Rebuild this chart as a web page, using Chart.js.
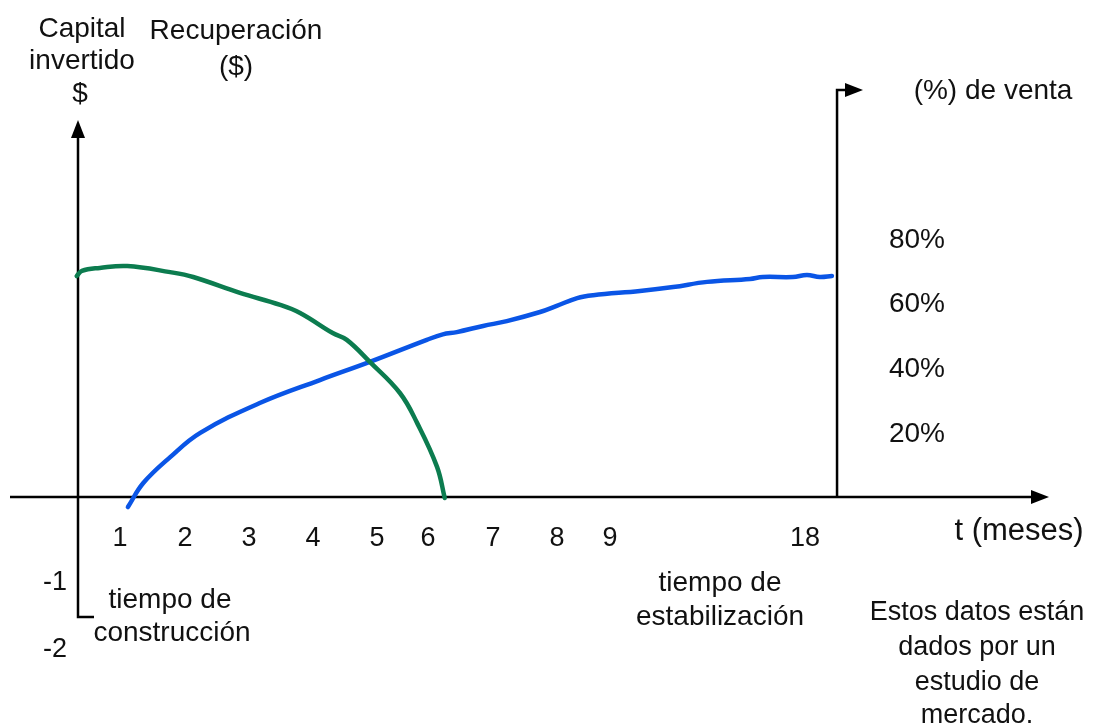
<!DOCTYPE html>
<html>
<head>
<meta charset="utf-8">
<script src="https://cdn.jsdelivr.net/npm/chart.js@4/dist/chart.umd.min.js"></script>
<style>
  html, body { margin: 0; padding: 0; background: #fff; }
  #wrap { width: 1101px; height: 727px; }
</style>
</head>
<body>
<div id="wrap"><canvas id="diagram" width="1101" height="727"></canvas></div>
<script>
// x in axis units (one month-slot ~ 64px from the money axis), y in % de venta
const TICK_POS = [0.656, 1.672, 2.672, 3.672, 4.672, 5.469, 6.484, 7.484, 8.3125, 11.36];
const TICK_LABELS = ["1", "2", "3", "4", "5", "6", "7", "8", "9", "18"];
const PCT_TICKS = [20, 40, 60, 80];
const NEG_TICKS = [-25.9, -46.6];
const NEG_LABELS = ["-1", "-2"];

const capitalX = [-0.02, 0.06, 0.34, 0.77, 1.44, 1.80, 2.53, 3.16, 3.47, 3.98, 4.20, 4.56, 5.03, 5.30, 5.61, 5.73];
const capitalY = [68.2, 69.8, 70.7, 71.3, 69.4, 67.9, 63.0, 59.3, 56.8, 50.6, 48.5, 41.7, 32.1, 22.8, 9.3, -0.3];

const ventaX = [0.78, 1.02, 1.44, 1.91, 2.84, 3.78, 4.56, 5.45, 5.70, 5.92, 6.33, 6.70, 7.22, 7.48, 7.80, 8.05, 8.78, 9.30, 9.83, 10.50, 10.70, 11.17, 11.39, 11.59, 11.78];
const ventaY = [-3.1, 4.3, 12.3, 19.8, 29.0, 36.1, 41.7, 48.5, 50.2, 50.9, 52.8, 54.3, 57.1, 59.0, 61.4, 62.3, 63.6, 64.8, 66.4, 67.3, 67.9, 67.9, 68.5, 67.9, 68.2];

const RIGHT_AXIS = 11.86;

function pts(xs, ys) {
  return xs.map((x, i) => ({ x: x, y: ys[i] }));
}

const FONT = '"Liberation Sans", Arial, sans-serif';

function arrowHead(ctx, x, y, dir) {
  ctx.beginPath();
  if (dir === "up") {
    ctx.moveTo(x, y);
    ctx.lineTo(x - 7, y + 18);
    ctx.lineTo(x + 7, y + 18);
  } else {
    ctx.moveTo(x, y);
    ctx.lineTo(x - 18, y - 7);
    ctx.lineTo(x - 18, y + 7);
  }
  ctx.closePath();
  ctx.fill();
}

const axesPlugin = {
  id: "axesPlugin",
  beforeDatasetsDraw(chart) {
    const ctx = chart.ctx;
    const xs = chart.scales.x, ys = chart.scales.y;
    const x0 = xs.getPixelForValue(0);
    const y0 = ys.getPixelForValue(0);
    const xr = xs.getPixelForValue(RIGHT_AXIS);
    ctx.save();
    ctx.strokeStyle = "#000";
    ctx.fillStyle = "#000";
    ctx.lineWidth = 2.5;
    // t axis
    ctx.beginPath();
    ctx.moveTo(10, y0);
    ctx.lineTo(1032, y0);
    ctx.stroke();
    arrowHead(ctx, 1049, y0, "right");
    // money axis
    ctx.beginPath();
    ctx.moveTo(x0 + 16, 617);
    ctx.lineTo(x0, 617);
    ctx.lineTo(x0, 136);
    ctx.stroke();
    arrowHead(ctx, x0, 120, "up");
    // % axis
    ctx.beginPath();
    ctx.moveTo(xr, y0);
    ctx.lineTo(xr, 90);
    ctx.lineTo(846, 90);
    ctx.stroke();
    arrowHead(ctx, 863, 90, "right");
    ctx.restore();
  },
  afterDraw(chart) {
    const ctx = chart.ctx;
    const xs = chart.scales.x, ys = chart.scales.y;
    const y0 = ys.getPixelForValue(0);
    ctx.save();
    ctx.fillStyle = "#111";
    ctx.textAlign = "center";
    ctx.textBaseline = "middle";
    ctx.font = "27px " + FONT;
    TICK_POS.forEach((v, i) => {
      ctx.fillText(TICK_LABELS[i], xs.getPixelForValue(v), y0 + 42);
    });
    ctx.font = "28px " + FONT;
    PCT_TICKS.forEach(v => {
      ctx.fillText(v + "%", 917, ys.getPixelForValue(v) + 2);
    });
    ctx.font = "27px " + FONT;
    NEG_TICKS.forEach((v, i) => {
      ctx.fillText(NEG_LABELS[i], 55, ys.getPixelForValue(v) + 2);
    });
    ctx.font = "28px " + FONT;
    const lines = [
      ["Capital", 82, 29], ["invertido", 82, 61], ["$", 80, 94],
      ["Recuperación", 236, 31], ["($)", 236, 67],
      ["(%) de venta", 993, 91],
      ["tiempo de", 170, 600], ["construcción", 172, 633],
      ["tiempo de", 720, 583], ["estabilización", 720, 617]
    ];
    lines.forEach(l => ctx.fillText(l[0], l[1], l[2]));
    ctx.font = "27px " + FONT;
    const note = [
      ["Estos datos están", 977, 613], ["dados por un", 977, 648],
      ["estudio de", 977, 683], ["mercado.", 977, 716]
    ];
    note.forEach(l => ctx.fillText(l[0], l[1], l[2]));
    ctx.font = "31px " + FONT;
    ctx.fillText("t (meses)", 1019, 531);
    ctx.restore();
  }
};

(function() {
  const ctx = document.getElementById("diagram").getContext("2d");
  window.diagram = new Chart(ctx, {
    type: "line",
    data: {
      datasets: [
        {
          label: "Capital invertido / Recuperación",
          data: pts(capitalX, capitalY),
          borderColor: "#0c7c4f",
          borderWidth: 4.5,
          pointRadius: 0,
          tension: 0.4,
          borderCapStyle: "round",
          borderJoinStyle: "round",
          fill: false
        },
        {
          label: "% de venta",
          data: pts(ventaX, ventaY),
          borderColor: "#0a55e6",
          borderWidth: 4.5,
          pointRadius: 0,
          tension: 0.4,
          borderCapStyle: "round",
          borderJoinStyle: "round",
          fill: false
        }
      ]
    },
    options: {
      responsive: false,
      animation: false,
      layout: { padding: 0 },
      plugins: {
        legend: { display: false },
        tooltip: { enabled: false },
        title: { display: false }
      },
      scales: {
        x: { type: "linear", display: false, min: -1.21875, max: 15.984375 },
        y: { type: "linear", display: false, min: -70.99, max: 153.4 }
      }
    },
    plugins: [axesPlugin]
  });
})();
</script>
</body>
</html>
